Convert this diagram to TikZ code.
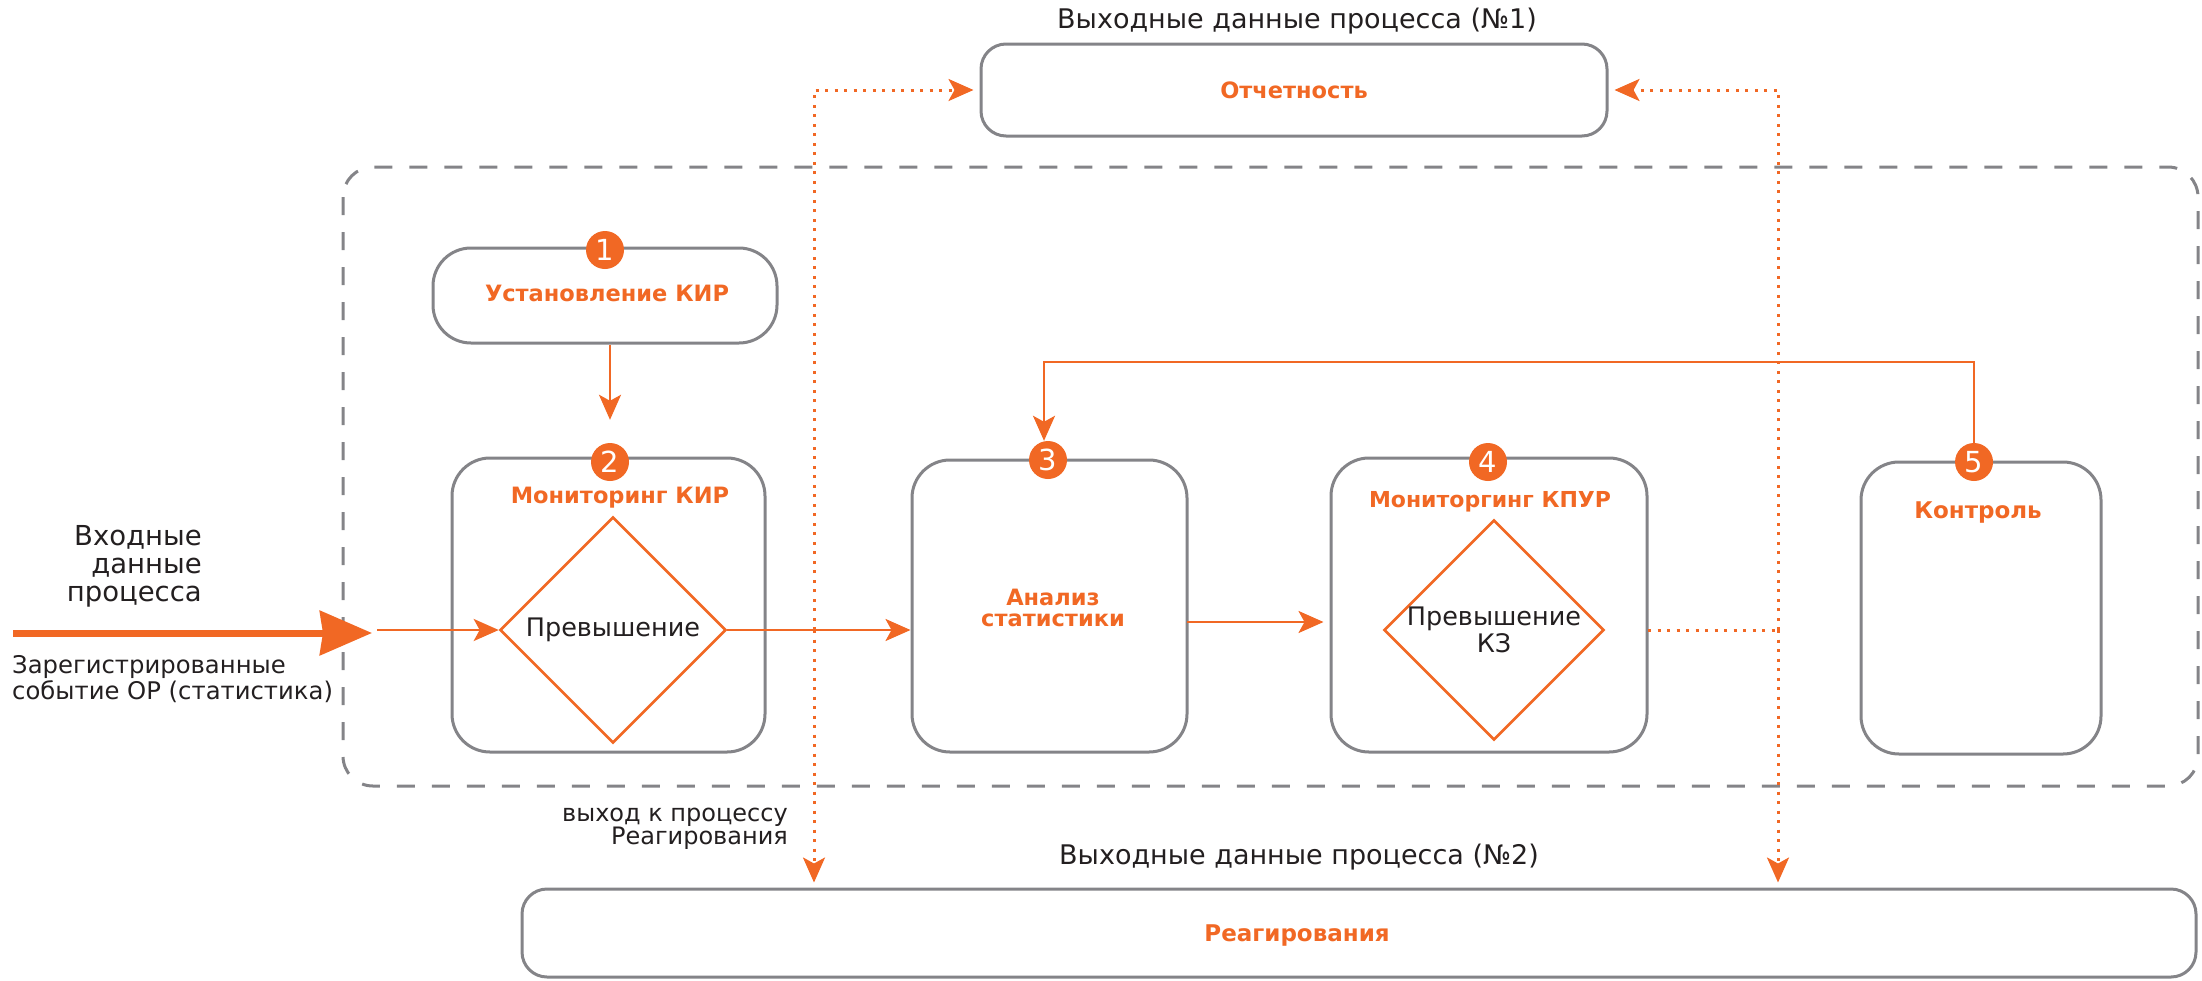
\documentclass[tikz,border=0pt]{standalone}
\usepackage{fontspec}
\setmainfont{DejaVu Sans}
\usetikzlibrary{arrows.meta,shapes.geometric}
\definecolor{org}{RGB}{241,104,36}
\definecolor{gry}{RGB}{132,132,136}
\definecolor{ink}{RGB}{35,31,32}
\tikzset{
  box/.style={draw=gry,line width=3pt,rounded corners=38pt,inner sep=0pt,fill=white},
  dia/.style={draw=org,line width=2.6pt,diamond,aspect=1,inner sep=0pt,fill=white,align=center,
              text=ink,font=\fontsize{25.5}{27}\selectfont},
  badge/.style={circle,fill=org,text=white,minimum size=38pt,inner sep=0pt,font=\fontsize{29}{29}\selectfont},
  olbl/.style={text=org,font=\fontsize{22.5}{22}\selectfont\bfseries,align=center,inner sep=0pt},
  blk/.style={text=ink,font=\fontsize{24}{28}\selectfont,inner sep=0pt},
  oline/.style={draw=org,line width=2.6pt},
  arr/.style={-{Stealth[length=25pt,width=22pt,inset=6pt]}},
  dotline/.style={draw=org,line width=3pt,dash pattern=on 3pt off 6.5pt},
}
\begin{document}
\begin{tikzpicture}[x=1pt,y=-1pt]
\useasboundingbox (0,0) rectangle (2202,980);
% outer dashed frame
\draw[gry,line width=3pt,dash pattern=on 18pt off 17pt,rounded corners=30pt] (343,167) rectangle (2198,786);
% titles
\node[blk,font=\fontsize{27}{30}\selectfont,anchor=base] (t1) at (1297,28) {Выходные данные процесса (№1)};
\node[blk,font=\fontsize{27}{30}\selectfont,anchor=base] (t2) at (1299,864) {Выходные данные процесса (№2)};
% output boxes
\node[box,rounded corners=25pt,minimum width=626pt,minimum height=92pt] (otch) at (1294,90) {};
\node[olbl] (otchT) at (1294,90) {Отчетность};
\node[box,rounded corners=25pt,minimum width=1674pt,minimum height=88pt] (reag) at (1359,933) {};
\node[olbl,font=\fontsize{23}{23}\selectfont\bfseries] (reagT) at (1297,935) {Реагирования};
% process boxes
\node[box,minimum width=344pt,minimum height=95pt] (box1) at (605,295.5) {};
\node[olbl] (box1T) at (607,293) {Установление КИР};
\node[box,minimum width=313pt,minimum height=294pt] (box2) at (608.5,605) {};
\node[olbl] (box2T) at (620,498) {Мониторинг КИР};
\node[box,minimum width=275pt,minimum height=292pt] (box3) at (1049.5,606) {};
\node[olbl,font=\fontsize{22.5}{21}\selectfont\bfseries] (box3T) at (1053,608) {Анализ\\статистики};
\node[box,minimum width=316pt,minimum height=294pt] (box4) at (1489,605) {};
\node[olbl,font=\fontsize{22}{22}\selectfont\bfseries] (box4T) at (1490,502) {Мониторгинг КПУР};
\node[box,minimum width=240pt,minimum height=292pt] (box5) at (1981,608) {};
\node[olbl,font=\fontsize{23}{23}\selectfont\bfseries] (box5T) at (1978,513) {Контроль};
% diamonds
\node[dia,minimum width=226pt,minimum height=226pt] (d1) at (613,630) {Превышение};
\node[dia,minimum width=216pt,minimum height=216pt] (d2) at (1494,630) {Превышение\\КЗ};
% side texts
\node[blk,align=right,anchor=east,font=\fontsize{27.5}{28}\selectfont] (inTxt) at (202,566) {Входные\\данные\\процесса};
\node[blk,align=left,anchor=west,font=\fontsize{24.3}{26}\selectfont] (regTxt) at (12,679) {Зарегистрированные\\событие ОР (статистика)};
\node[blk,align=right,anchor=east,font=\fontsize{24}{23}\selectfont] (outTxt) at (788,829) {выход к процессу\\Реагирования};
% input arrow
\coordinate (inS) at (13,633);
\coordinate (inE) at (372,633);
\draw[org,line width=7pt,-{Stealth[length=52pt,width=44pt,inset=3pt]}] (inS) -- (inE);
\coordinate (inT) at (377,630);
\draw[oline,arr] (inT) -- (d1.west);
% flow arrows
\draw[oline,arr] (d1.east) -- (d1.east -| box3.west);
\coordinate (o3) at (1187,622);
\draw[oline,arr,shorten >=6pt] (o3) -- (o3 -| box4.west);
% dotted output connectors
\coordinate (jL) at (814,630);
\coordinate (jR) at (1778,630);
\coordinate (o4) at (1648,630);
\draw[dotline] (o4) -- (jR);
\draw[dotline,arr,shorten >=6pt] (jL) |- (otch.west);
\draw[dotline,arr,shorten >=5pt] (jL) -- (jL |- reag.north);
\draw[dotline,arr,shorten >=6pt] (jR) |- (otch.east);
\draw[dotline,arr,shorten >=5pt] (jR) -- (jR |- reag.north);
% badges
\node[badge] (b1) at (605,250) {1};
\node[badge] (b2) at (610,462) {2};
\node[badge] (b3) at (1048,460) {3};
\node[badge] (b4) at (1488,462) {4};
\node[badge] (b5) at (1974,462) {5};
% box1 -> box2
\draw[oline,arr,shorten >=23pt] (box1.south -| b2) -- (b2.north);
% feedback 5 -> 3
\coordinate (fbR) at (1974,362);
\coordinate (fbL) at (1044,362);
\draw[oline,arr] (b5.north) -- (fbR) -- (fbL) -- (fbL |- b3.north);
\end{tikzpicture}
\end{document}
